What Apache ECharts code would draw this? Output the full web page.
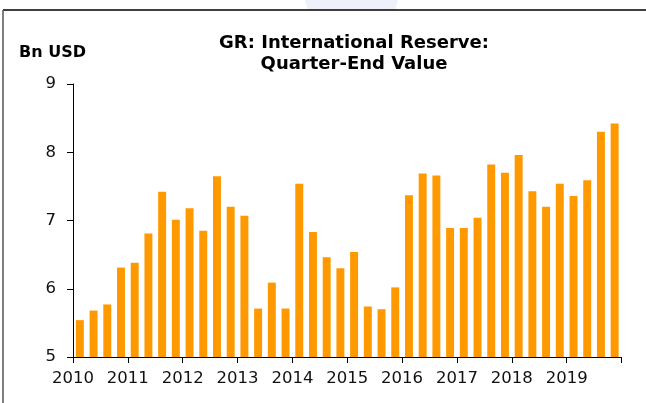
<!DOCTYPE html>
<html><head><meta charset="utf-8">
<script src="https://cdn.jsdelivr.net/npm/echarts@6/dist/echarts.min.js"></script>
<style>html,body{margin:0;padding:0;background:#fff}#c{width:646px;height:403px}</style>
</head><body><div id="c"></div>
<script>
const quarters = [];
const yearLabels = ['2010','2011','2012','2013','2014','2015','2016','2017','2018','2019'];
yearLabels.forEach(y => { for (let q = 1; q <= 4; q++) quarters.push(y + 'Q' + q); });
const reserves = [
  5.54, 5.68, 5.77, 6.31, 6.38, 6.81, 7.42, 7.01, 7.18, 6.85,
  7.65, 7.20, 7.07, 5.71, 6.09, 5.71, 7.54, 6.83, 6.46, 6.30,
  6.54, 5.74, 5.70, 6.02, 7.37, 7.69, 7.66, 6.89, 6.89, 7.04,
  7.82, 7.70, 7.96, 7.43, 7.20, 7.54, 7.36, 7.59, 8.30, 8.42
];
const yTicks = { min: 5, max: 9, interval: 1 };

const chart = echarts.init(document.getElementById('c'), null, { renderer: 'canvas' });
const font = '"DejaVu Sans", sans-serif';
chart.setOption({
  animation: false,
  backgroundColor: '#ffffff',
  graphic: [
    { type: 'polygon', silent: true, z: -10, shape: { points: [[305,0],[398,0],[395,10],[308,10]] }, style: { fill: '#EEF0FA' } },
    { type: 'line', shape: { x1: 3, y1: 10, x2: 646, y2: 10 }, style: { stroke: '#000', lineWidth: 1.5 } },
    { type: 'line', shape: { x1: 3, y1: 10, x2: 3, y2: 403 }, style: { stroke: '#555', lineWidth: 1.5 } },
    { type: 'text', left: 19, top: 45, style: { text: 'Bn USD', font: 'bold 16px ' + font, fill: '#000' } }
  ],
  title: {
    text: 'GR: International Reserve:\nQuarter-End Value',
    left: 349, top: 28, textAlign: 'center',
    textStyle: { fontFamily: font, fontWeight: 'bold', fontSize: 18, color: '#000', lineHeight: 21 }
  },
  grid: { left: 73, right: 24.5, top: 84, bottom: 46 },
  xAxis: [
    { type: 'category', data: quarters, boundaryGap: true,
      axisLine: { show: false }, axisTick: { show: false }, axisLabel: { show: false } },
    { type: 'value', min: 0, max: 40, interval: 4, position: 'bottom',
      axisLine: { show: true, onZero: false, lineStyle: { color: '#000', width: 1 } },
      axisTick: { show: true, inside: false, length: 6, lineStyle: { color: '#000' } },
      splitLine: { show: false },
      axisLabel: { color: '#111', fontFamily: font, fontSize: 16.5, margin: 13,
        formatter: v => yearLabels[v / 4] || '' } }
  ],
  yAxis: {
    type: 'value', min: yTicks.min, max: yTicks.max, interval: yTicks.interval,
    axisLine: { show: true, lineStyle: { color: '#000', width: 1 } },
    axisTick: { show: true, inside: false, length: 6, lineStyle: { color: '#000' } },
    splitLine: { show: false },
    axisLabel: { color: '#111', fontFamily: font, fontSize: 16.5, margin: 17 }
  },
  series: [{
    type: 'bar', xAxisIndex: 0, data: reserves, barCategoryGap: '42%',
    itemStyle: { color: '#FF9900' }
  }]
});
</script></body></html>
